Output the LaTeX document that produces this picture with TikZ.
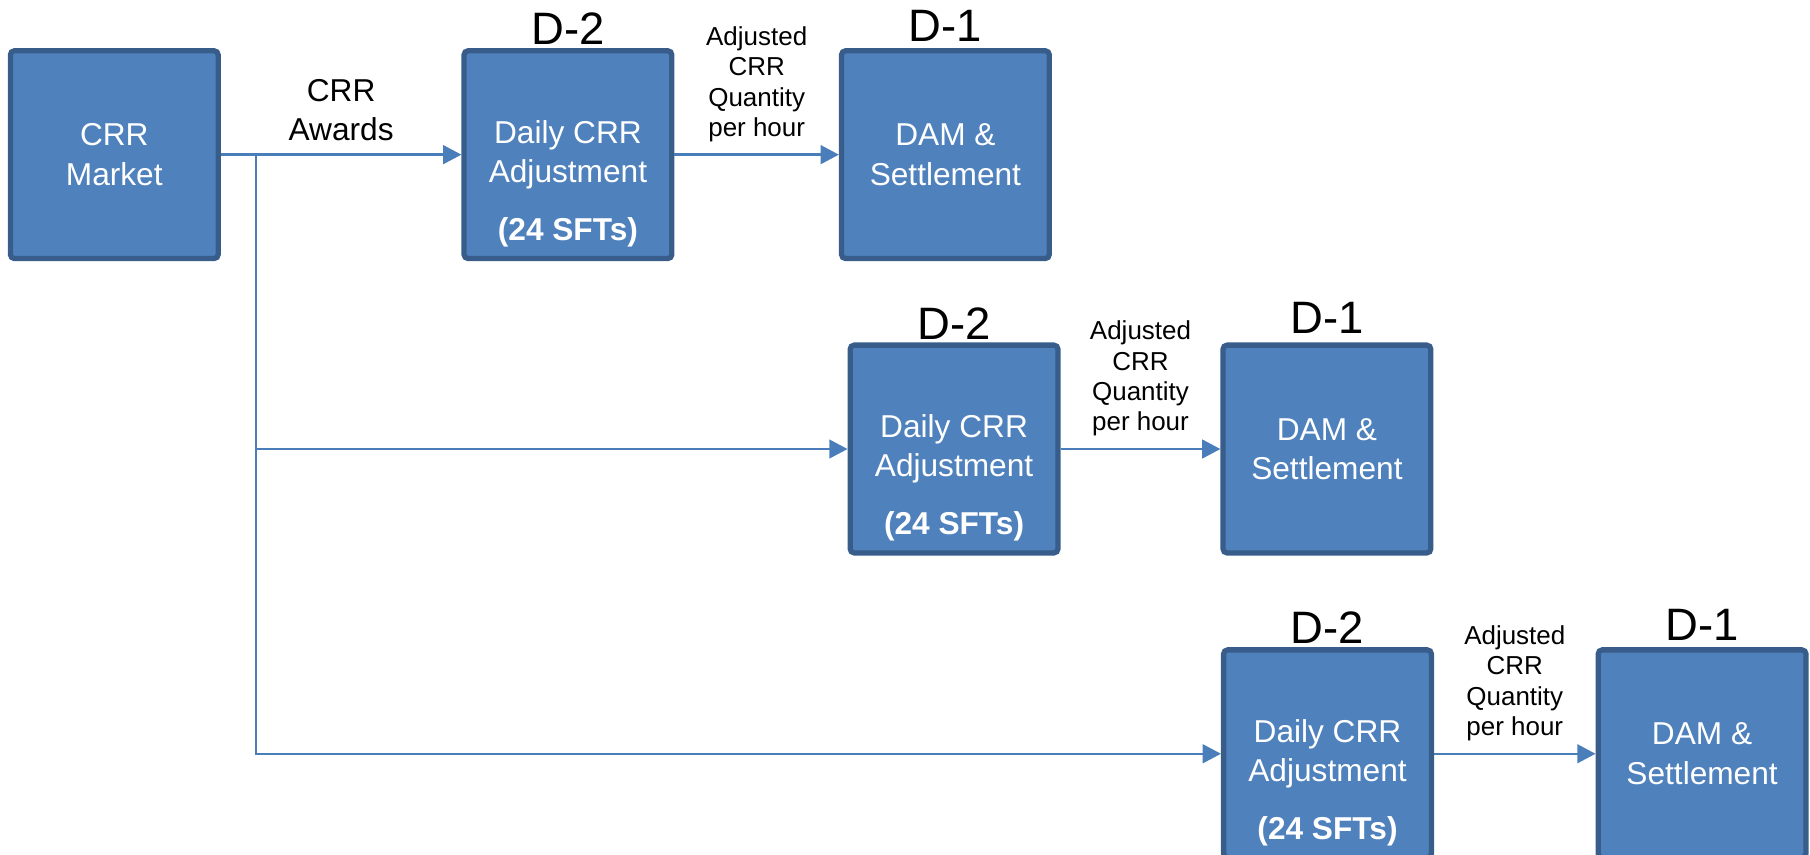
\documentclass[tikz,border=0pt]{standalone}
\usepackage{fontspec}
\setmainfont{Liberation Sans}
\usetikzlibrary{arrows.meta}
\definecolor{CRBlue}{HTML}{4F81BD}
\definecolor{CREdge}{HTML}{385D8A}
\definecolor{CRLine}{HTML}{4A7EBB}
\tikzset{
  crbox/.style={draw=CREdge,fill=CRBlue,line width=1.3pt,rounded corners=1pt,
    minimum width=1.8cm,minimum height=1.8cm,inner sep=0pt,text=white,
    align=center,font=\fontsize{7.8}{9.7}\selectfont},
  crsft/.style={text=white,inner sep=0pt,font=\fontsize{7.8}{9.7}\selectfont\bfseries},
  crday/.style={inner sep=0pt,anchor=base,font=\fontsize{11.2}{12}\selectfont},
  crnote/.style={align=center,inner sep=0pt,font=\fontsize{6.4}{7.5}\selectfont},
  crlbl/.style={align=center,inner sep=0pt,font=\fontsize{7.8}{9.7}\selectfont},
  crflow/.style={draw=CRLine,line width=0.6pt,-{Triangle[length=4.5pt,width=4.6pt]}},
}
\begin{document}
\begin{tikzpicture}[x=1cm,y=1cm]
\path[use as bounding box] (0,0) rectangle (15.68,7.40);
\node[crbox] (crrmkt) at (0.99,6.06) {CRR\\Market};
\node[crbox] (adj1) at (4.92,6.06) {Daily CRR\\Adjustment};
\node[crbox] (dam1) at (8.19,6.06) {DAM \&\\Settlement};
\node[crbox] (adj2) at (8.265,3.51) {Daily CRR\\Adjustment};
\node[crbox] (dam2) at (11.495,3.51) {DAM \&\\Settlement};
\node[crbox] (adj3) at (11.50,0.87) {Daily CRR\\Adjustment};
\node[crbox] (dam3) at (14.745,0.87) {DAM \&\\Settlement};
\node[crsft] (sft1) at ([yshift=0.25cm]adj1.south) {(24 SFTs)};
\node[crsft] (sft2) at ([yshift=0.25cm]adj2.south) {(24 SFTs)};
\node[crsft] (sft3) at ([yshift=0.25cm]adj3.south) {(24 SFTs)};
\node[crday] (day21) at ([yshift=0.03cm]adj1.north) {D-2};
\node[crday] (day11) at ([yshift=0.06cm]dam1.north) {D-1};
\node[crday] (day22) at ([yshift=0.03cm]adj2.north) {D-2};
\node[crday] (day12) at ([yshift=0.08cm]dam2.north) {D-1};
\node[crday] (day23) at ([yshift=0.03cm]adj3.north) {D-2};
\node[crday] (day13) at ([yshift=0.06cm]dam3.north) {D-1};
\coordinate (split) at (2.22,6.06);
\draw[crflow] (crrmkt) -- node[crlbl,above=0.11cm] {CRR\\Awards} (adj1);
\draw[crflow] (split) |- (adj3);
\draw[crflow] (split |- adj2) -- (adj2);
\draw[crflow] (adj1) -- node[crnote,above=0.1cm] {Adjusted\\CRR\\Quantity\\per hour} (dam1);
\draw[crflow] (adj2) -- node[crnote,above=0.1cm] {Adjusted\\CRR\\Quantity\\per hour} (dam2);
\draw[crflow] (adj3) -- node[crnote,above=0.1cm] {Adjusted\\CRR\\Quantity\\per hour} (dam3);
\end{tikzpicture}
\end{document}
